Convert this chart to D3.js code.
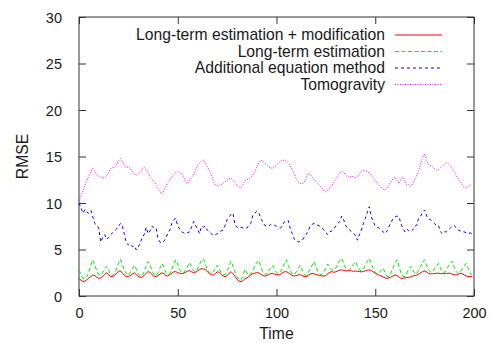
<!DOCTYPE html>
<html>
<head>
<meta charset="utf-8">
<script src="https://cdn.jsdelivr.net/npm/d3@7"></script>
<style>
  html, body { margin: 0; padding: 0; background: #ffffff; }
  svg { display: block; }
  text { font-family: "Liberation Sans", Arial, Helvetica, sans-serif; fill: #1a1a1a; }
</style>
</head>
<body>
<div id="chart"></div>
<script>
// ---------------- DATA ----------------
const seriesNames = [
  "Long-term estimation + modification",
  "Long-term estimation",
  "Additional equation method",
  "Tomogravity"
];
const xTicks = [0, 50, 100, 150, 200];
const yTicks = [0, 5, 10, 15, 20, 25, 30];
const xLabel = "Time";
const yLabel = "RMSE";

// values at Time = 0 .. 199
const longTermMod = [
  1.9,1.7,1.55,1.6,1.75,1.95,2.1,2.25,2.2,2.0,
  1.9,1.95,2.1,2.3,2.5,2.3,2.1,2.1,2.2,2.45,
  2.65,2.7,2.45,2.2,2.1,2.1,2.2,2.35,2.5,2.3,
  2.1,2.0,2.05,2.2,2.45,2.62,2.55,2.3,2.1,2.1,
  2.2,2.35,2.5,2.4,2.2,2.15,2.3,2.45,2.6,2.62,
  2.5,2.45,2.4,2.45,2.55,2.68,2.72,2.6,2.5,2.55,
  2.7,2.85,2.95,2.9,2.85,2.6,2.4,2.3,2.26,2.4,
  2.6,2.55,2.3,2.15,2.08,2.2,2.45,2.62,2.4,2.1,
  1.8,1.6,1.55,1.65,1.85,1.95,2.1,2.25,2.4,2.45,
  2.5,2.5,2.35,2.2,2.15,2.2,2.3,2.4,2.44,2.35,
  2.3,2.26,2.35,2.5,2.6,2.62,2.5,2.35,2.2,2.15,
  2.2,2.26,2.3,2.2,2.1,2.08,2.2,2.35,2.44,2.4,
  2.3,2.26,2.2,2.15,2.15,2.2,2.4,2.55,2.62,2.55,
  2.6,2.7,2.78,2.8,2.78,2.72,2.7,2.72,2.7,2.65,
  2.68,2.65,2.62,2.6,2.62,2.7,2.78,2.8,2.75,2.6,
  2.45,2.3,2.25,2.15,2.05,1.95,1.9,1.95,2.05,2.15,
  2.26,2.2,2.05,1.9,1.9,1.95,2.0,2.0,2.05,2.15,
  2.2,2.26,2.35,2.5,2.62,2.69,2.6,2.44,2.38,2.4,
  2.42,2.44,2.45,2.42,2.4,2.4,2.42,2.45,2.44,2.35,
  2.28,2.26,2.32,2.44,2.4,2.25,2.15,2.1,2.08,2.1
];
const longTerm = [
  2.8,2.3,1.9,1.85,2.1,2.6,3.3,3.9,3.3,2.7,
  2.3,2.2,2.5,2.9,3.2,2.8,2.3,2.2,2.4,2.9,
  3.5,3.95,3.4,2.8,2.35,2.2,2.5,2.9,3.3,2.9,
  2.4,2.1,2.2,2.6,3.2,3.7,3.3,2.7,2.3,2.2,
  2.5,3.0,3.5,3.1,2.5,2.3,2.4,2.9,3.4,3.9,
  3.4,2.8,2.5,2.5,2.8,3.2,3.6,3.2,2.7,2.6,
  2.9,3.4,3.8,4.0,3.4,2.8,2.5,2.4,2.6,3.0,
  3.3,2.9,2.5,2.3,2.3,2.7,3.2,3.75,3.2,2.6,
  2.1,1.8,1.75,2.1,2.9,2.5,2.2,2.4,2.8,3.2,
  3.6,3.85,3.2,2.6,2.35,2.35,2.7,3.0,3.3,2.9,
  2.5,2.4,2.6,3.0,3.5,3.9,3.3,2.7,2.35,2.3,
  2.6,3.0,3.3,2.8,2.3,2.2,2.5,2.9,3.3,3.7,
  3.1,2.6,2.35,2.3,2.6,3.0,3.45,3.0,2.8,2.8,
  3.0,3.4,3.8,4.05,3.5,3.0,2.8,2.8,3.1,3.4,
  3.7,3.2,2.8,2.7,2.9,3.3,3.7,4.05,3.5,2.9,
  2.5,2.4,2.5,2.8,3.0,2.5,2.1,2.1,2.5,3.0,
  3.5,3.9,3.2,2.5,2.1,2.1,2.5,2.9,3.2,2.8,
  2.4,2.4,2.8,3.2,3.6,3.9,3.3,2.8,2.6,2.6,
  2.9,3.2,3.5,3.0,2.6,2.5,2.8,3.2,3.5,3.75,
  3.1,2.6,2.4,2.6,2.9,3.2,3.5,3.0,2.5,2.2
];
const additionalEq = [
  10.0,9.5,8.9,9.3,9.0,8.9,9.2,8.5,7.8,7.6,
  7.3,5.8,6.3,6.6,6.1,6.3,6.6,6.8,7.0,7.2,
  7.5,7.8,7.5,6.6,5.7,5.5,5.6,5.3,5.4,4.95,
  5.3,5.7,6.3,6.6,7.4,6.7,7.0,7.5,7.3,7.3,
  6.2,5.8,5.7,5.9,6.2,6.8,7.1,7.8,8.2,8.35,
  7.5,7.2,6.9,6.8,6.7,6.8,6.9,7.4,8.0,7.6,
  7.2,6.7,7.5,7.4,7.5,7.1,6.9,6.7,6.5,6.6,
  6.7,6.9,7.0,7.1,7.6,8.2,8.5,8.8,8.9,7.6,
  7.4,7.3,7.4,7.3,7.3,7.3,7.6,7.8,8.7,8.9,
  9.1,9.0,8.35,8.0,7.6,7.5,7.5,7.7,7.6,7.6,
  7.5,7.4,7.3,7.6,8.0,8.0,8.1,7.2,6.7,6.1,
  6.0,5.8,5.9,6.0,6.3,6.6,7.0,7.5,7.7,7.8,
  7.7,7.6,7.5,7.3,7.1,6.8,6.6,6.9,7.0,7.2,
  7.5,7.8,8.0,8.6,8.2,7.6,7.3,7.1,6.9,6.7,
  6.5,6.0,6.6,7.1,7.8,8.35,9.0,9.6,8.5,8.0,
  7.5,7.4,7.3,7.1,6.9,6.7,7.0,7.5,7.9,8.3,
  8.5,8.6,8.5,7.8,7.3,6.9,7.2,7.0,6.9,7.1,
  7.5,7.6,8.4,8.6,9.0,9.25,8.6,8.3,8.2,8.0,
  7.8,7.6,7.6,6.9,6.7,6.9,6.9,7.1,7.3,7.5,
  7.6,7.3,7.1,7.0,6.9,6.9,6.8,6.7,6.8,6.7
];
const tomogravity = [
  10.2,10.8,11.3,11.9,12.4,12.9,13.4,13.7,13.4,13.0,
  12.9,12.8,12.7,12.7,12.9,13.3,13.7,13.8,13.8,14.1,
  14.6,14.8,14.5,14.0,13.8,13.9,13.7,13.4,13.1,13.0,
  13.1,13.3,13.7,13.9,13.6,13.2,12.8,12.5,12.3,12.0,
  11.6,11.2,11.0,11.3,11.8,12.2,12.5,12.8,13.1,13.3,
  13.4,13.3,13.2,12.8,12.2,12.1,12.4,12.8,13.0,13.5,
  14.0,14.3,14.5,14.6,14.3,13.9,13.5,13.0,12.4,11.9,
  11.8,11.9,12.0,12.1,12.3,12.5,12.6,12.7,12.5,12.2,
  11.9,11.7,11.6,12.0,12.4,12.5,12.6,12.8,13.0,13.4,
  13.9,14.3,14.6,14.5,14.3,14.1,13.9,13.8,13.7,13.9,
  14.1,14.3,14.5,14.6,14.6,14.5,14.3,14.0,13.6,13.1,
  12.6,12.3,12.1,12.1,12.2,12.6,13.2,13.1,12.8,12.5,
  12.3,12.1,11.9,11.6,11.3,11.2,11.4,11.6,11.9,12.2,
  12.6,12.9,13.2,13.4,13.3,13.0,12.8,12.8,12.9,12.8,
  12.7,12.8,13.1,13.4,13.5,13.5,13.4,13.2,13.0,12.7,
  12.4,12.1,11.9,11.7,11.5,11.4,11.6,11.9,12.3,12.6,
  12.8,12.4,12.1,12.5,12.8,12.4,11.9,12.0,11.8,12.1,
  12.5,12.9,13.5,14.2,14.9,15.3,14.6,14.1,14.0,13.9,
  13.7,13.5,13.6,13.8,14.0,14.2,14.3,14.2,14.0,13.7,
  13.4,13.0,12.6,12.3,12.0,11.7,11.6,11.8,11.9,12.0
];

// ---------------- STYLES ----------------
const seriesValues = [longTermMod, longTerm, additionalEq, tomogravity];
const seriesStyles = [
  { color: "#ff0000", dash: null },
  { color: "#00f000", dash: "4,2.5" },
  { color: "#0000ff", dash: "3,3" },
  { color: "#ff00ff", dash: "1,1.5" }
];

const W = 492, H = 343;
const margin = { left: 79, right: 18, top: 17, bottom: 47 };
const iw = W - margin.left - margin.right;
const ih = H - margin.top - margin.bottom;
const labelFont = 15.7;
const tickFont = 14.5;

const svg = d3.select("#chart").append("svg")
  .attr("width", W).attr("height", H);

const x = d3.scaleLinear().domain([0, 200]).range([margin.left, margin.left + iw]);
const y = d3.scaleLinear().domain([0, 30]).range([margin.top + ih, margin.top]);

const tickLen = 7;
const frameColor = "#333";

// axes (ticks inward, mirrored)
const gBottom = svg.append("g").attr("transform", `translate(0,${y(0)})`)
  .call(d3.axisBottom(x).tickValues(xTicks).tickSizeInner(-tickLen).tickSizeOuter(0).tickPadding(12));
const gTop = svg.append("g").attr("transform", `translate(0,${y(30)})`)
  .call(d3.axisTop(x).tickValues(xTicks).tickSizeInner(-tickLen).tickSizeOuter(0).tickFormat(""));
const gLeft = svg.append("g").attr("transform", `translate(${x(0)},0)`)
  .call(d3.axisLeft(y).tickValues(yTicks).tickSizeInner(-tickLen).tickSizeOuter(0).tickPadding(17));
const gRight = svg.append("g").attr("transform", `translate(${x(200)},0)`)
  .call(d3.axisRight(y).tickValues(yTicks).tickSizeInner(-tickLen).tickSizeOuter(0).tickFormat(""));

[gBottom, gTop, gLeft, gRight].forEach(g => {
  g.select(".domain").remove();
  g.selectAll(".tick line").attr("stroke", frameColor).attr("stroke-width", 1);
  g.selectAll(".tick text").attr("font-size", tickFont).attr("fill", "#1a1a1a")
    .attr("font-family", '"Liberation Sans", Arial, sans-serif');
});
gLeft.selectAll(".tick text").attr("dy", "0.36em");

// frame
svg.append("rect")
  .attr("x", x(0)).attr("y", y(30))
  .attr("width", x(200) - x(0)).attr("height", y(0) - y(30))
  .attr("fill", "none").attr("stroke", frameColor).attr("stroke-width", 1);

// series lines
const line = d3.line().x((d, i) => x(i)).y(d => y(d));
const order = [3, 2, 1, 0];
order.forEach(k => {
  svg.append("path")
    .datum(seriesValues[k])
    .attr("d", line)
    .attr("fill", "none")
    .attr("stroke", seriesStyles[k].color)
    .attr("stroke-width", 1)
    .attr("stroke-dasharray", seriesStyles[k].dash)
    .attr("stroke-linejoin", "round");
});

// legend
const legendTextX = 385;
const legendLineX1 = 395, legendLineX2 = 442;
const legendY0 = 35, legendDy = 16.5;
seriesNames.forEach((name, k) => {
  const ly = legendY0 + k * legendDy;
  svg.append("text")
    .attr("x", legendTextX).attr("y", ly)
    .attr("dy", "0.35em")
    .attr("text-anchor", "end")
    .attr("font-size", labelFont)
    .text(name);
  svg.append("line")
    .attr("x1", legendLineX1).attr("x2", legendLineX2)
    .attr("y1", ly).attr("y2", ly)
    .attr("stroke", seriesStyles[k].color)
    .attr("stroke-width", 1)
    .attr("stroke-dasharray", seriesStyles[k].dash);
});

// axis titles
svg.append("text")
  .attr("x", (x(0) + x(200)) / 2).attr("y", 339)
  .attr("text-anchor", "middle").attr("font-size", labelFont)
  .text(xLabel);
svg.append("text")
  .attr("transform", `translate(28,${(y(0) + y(30)) / 2}) rotate(-90)`)
  .attr("text-anchor", "middle").attr("font-size", labelFont)
  .text(yLabel);
</script>
</body>
</html>
